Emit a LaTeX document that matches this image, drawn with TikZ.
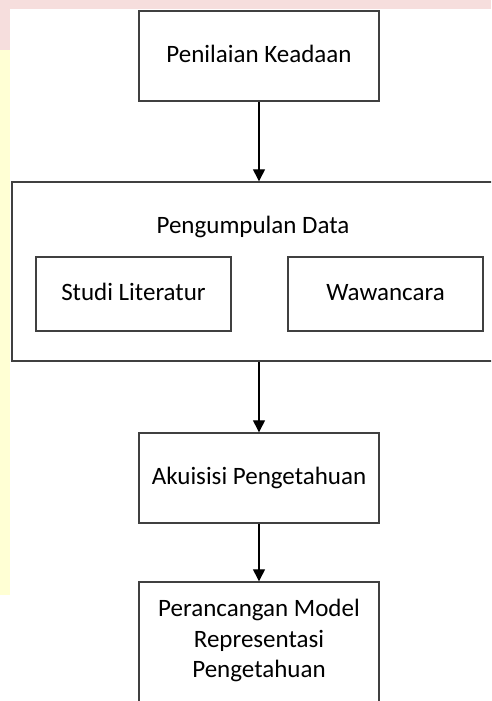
\documentclass[tikz,border=0pt]{standalone}
\usepackage{fontspec}
\setmainfont{Carlito}
\usepackage{tikz}
\usetikzlibrary{arrows.meta}

\definecolor{garis}{HTML}{404040}
\definecolor{latarmerah}{HTML}{F6DEDD}
\definecolor{latarkuning}{HTML}{FFFFD4}

\begin{document}
\begin{tikzpicture}[x=1pt,y=1pt,
                huruf/.style={font=\fontsize{25}{30.5}\selectfont},
                kotak/.style={draw=garis, line width=1.4pt, fill=white, inner sep=0pt,
                        align=center, huruf, execute at begin node=\strut},
                panah/.style={draw=black, line width=1.3pt, -{Triangle[length=12pt,width=12pt]}}]
                \clip (0,0) rectangle (491,-701);

                % latar watermark
                \fill[latarmerah] (0,0) rectangle (491,-9.5);
                \fill[latarkuning] (0,-9.5) rectangle (10,-595);
                \fill[latarmerah] (0,-9.5) rectangle (10,-50);

                \node[kotak, minimum width=240pt, minimum height=90pt] (nilai) at (259,-56) {Penilaian Keadaan};

                \node[kotak, minimum width=494pt, minimum height=179pt] (kumpul) at (259,-271.5) {};
                \node[huruf, inner sep=0pt] (judulkumpul) at (253,-227) {\strut Pengumpulan Data};
                \node[kotak, minimum width=195pt, minimum height=74pt] (studi) at (133.5,-294) {Studi Literatur};
                \node[kotak, minimum width=195pt, minimum height=74pt] (wawan) at (385.5,-294) {Wawancara};

                \node[kotak, minimum width=240pt, minimum height=90pt] (akuisisi) at (259,-478) {Akuisisi Pengetahuan};
                \node[kotak, minimum width=240pt, minimum height=122pt] (rancang) at (259,-643) {Perancangan Model\\Representasi\\Pengetahuan};

                \draw[panah] (nilai.south) -- (nilai.south |- kumpul.north);
                \draw[panah] (kumpul.south -| akuisisi.north) -- (akuisisi.north);
                \draw[panah] (akuisisi.south) -- (rancang.north);
            \end{tikzpicture}
\end{document}
